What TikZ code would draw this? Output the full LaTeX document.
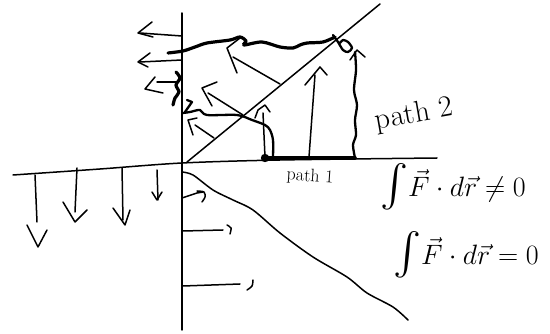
\documentclass[tikz,border=0pt]{standalone}
\RequirePackage{fix-cm}
\usepackage{tikz}
\newcommand{\bigint}{\vcenter{\hbox{\scalebox{4.2}{$\textstyle\int$}}}}
\begin{document}
\begin{tikzpicture}[x=1pt,y=-1pt,
  pen/.style={line width=1.5pt,line cap=round,line join=round},
  midpen/.style={line width=2.3pt,line cap=round,line join=round},
  boldpen/.style={line width=3.2pt,line cap=round,line join=round},
  lbl/.style={inner sep=0pt,font=\fontsize{30}{32}\selectfont},
  smalllbl/.style={inner sep=0pt,font=\fontsize{18}{20}\selectfont},
  eq/.style={inner sep=0pt,font=\fontsize{28}{30}\selectfont}]
\useasboundingbox (0,0) rectangle (550,334);
% axes
\draw[pen] (182,13) -- (182,330);
\draw[pen] plot[smooth] coordinates {(13,175) (100,169) (182,163) (280,160) (437,158)};
\draw[pen] (187,162) -- (380,4);
\draw[pen] plot[smooth] coordinates {(182,172) (193,175) (213,190) (233,200) (253,210) (280,233) (313,257) (347,277) (367,293) (393,307) (408,320)};
% left-pointing arrows above axis
\draw[pen] (182,36) -- (140,33);
\draw[pen] (152,22) -- (138,33) -- (153,37);
\draw[pen] (182,60) -- (140,62);
\draw[pen] (150,53) -- (138,62) -- (148,67);
\draw[pen] (178,82) -- (157,82);
\draw[pen] (155,77) -- (145,89) -- (163,93);
% thick squiggle along axis
\draw[boldpen] plot[smooth] coordinates {(176,72) (180,78) (176,85) (179,92) (175,98) (173,105)};
% path 2 top
\draw[boldpen] plot[smooth] coordinates {(168,53) (183,51) (195,47) (207,43) (230,40) (240,37) (246,41) (244,45) (262,42) (280,47) (293,48) (300,45) (307,43) (323,42) (335,37)};
\draw[midpen] plot[smooth] coordinates {(333,35) (338,42) (343,50) (348,52) (352,48) (348,42) (343,40) (340,43)};
% path 2 right side
\draw[midpen] plot[smooth] coordinates {(355,52) (356,70) (354,90) (357,105) (355,120) (356,135) (353,145) (355,158)};
\draw[pen] (350,60) -- (357,50) -- (365,57);
% path 1
\draw[boldpen,line width=3.6pt] (265,158) -- (355,158);
\fill (265,158) circle (4.2);
% lower path
\draw[midpen] plot[smooth] coordinates {(183,113) (190,112) (200,110) (207,115) (237,115) (252,120) (265,125) (270,130) (273,140) (273,157)};
\draw[midpen] (187,100) -- (192,102) -- (185,112);
% upward arrows
\draw[pen] (265,157) -- (263,113);
\draw[pen] (255,118) -- (258,110) -- (265,105) -- (270,112);
\draw[pen] (309,157) -- (315,75);
\draw[pen] (305,85) -- (320,67) -- (327,75);
% up-left arrows in the box
\draw[pen] (280,84) -- (233,57);
\draw[pen] (240,38) -- (227,48) -- (237,73);
\draw[pen] (243,115) -- (208,93);
\draw[pen] (217,82) -- (202,88) -- (212,106);
\draw[pen] (214,138) -- (195,125);
\draw[pen] (197,118) -- (188,120) -- (193,135);
% downward arrows
\draw[pen] (35,175) -- (37,222);
\draw[pen] (27,225) -- (38,247) -- (47,230);
\draw[pen] (77,168) -- (75,212);
\draw[pen] (63,202) -- (75,222) -- (87,210);
\draw[pen] (122,168) -- (123,220);
\draw[pen] (113,208) -- (125,225) -- (130,210);
\draw[pen] (157,170) -- (158,200);
\draw[pen] (152,192) -- (157,200) -- (162,192);
% rightward arrows below axis
\draw[pen] (182,198) -- (197,193) -- (203,192);
\draw[pen] plot[smooth] coordinates {(197,191) (204,192) (205,197) (202,202)};
\draw[pen] (183,231) -- (223,230);
\draw[pen] plot[smooth] coordinates {(227,225) (231,228) (230,234)};
\draw[pen] (183,286) -- (240,284);
\draw[pen] plot[smooth] coordinates {(253,280) (252,286) (247,290)};
% labels
\node[lbl,rotate=10] (p2) at (414,115) {path 2};
\node[smalllbl,rotate=-4] (p1) at (310,177) {path 1};
\node[eq] (e1) at (453,190) {$\bigint \vec F\cdot d\vec r \neq 0$};
\node[eq] (e2) at (466,258) {$\bigint \vec F\cdot d\vec r = 0$};
\end{tikzpicture}
\end{document}
